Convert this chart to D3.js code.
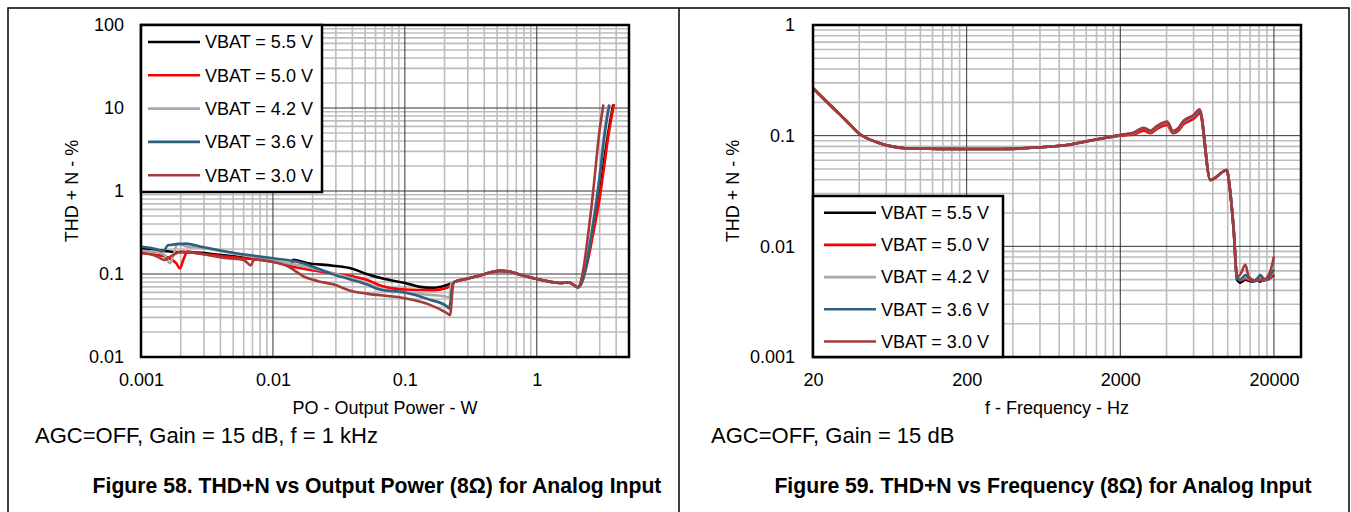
<!DOCTYPE html>
<html>
<head>
<meta charset="utf-8">
<script src="https://cdn.jsdelivr.net/npm/d3@7"></script>
<style>
body { margin: 0; background: #fff; }
svg text { font-family: "Liberation Sans", Arial, sans-serif; fill: #000; }
</style>
</head>
<body>
<div id="graphic"></div>
<script>
// series names + colours
var seriesNames = ['VBAT = 5.5 V', 'VBAT = 5.0 V', 'VBAT = 4.2 V', 'VBAT = 3.6 V', 'VBAT = 3.0 V'];
var seriesColours = ['#000000', '#ff0000', '#a9a9a9', '#2f6080', '#a63a3a'];

// Figure 58 - THD+N (%) vs output power (W), [P, THD]
var pow55 = [[0.001,0.205],[0.0013,0.195],[0.0015,0.19],[0.0018,0.184],[0.0025,0.182],[0.0035,0.174],[0.005,0.163],[0.007,0.152],[0.01,0.141],[0.0138,0.13],[0.0142,0.148],[0.018,0.136],[0.0285,0.126],[0.04,0.116],[0.0513,0.1],[0.068,0.088],[0.1,0.078],[0.13,0.07],[0.164,0.068],[0.2,0.072],[0.23,0.078],[0.24,0.081],[0.3,0.088],[0.37,0.096],[0.45,0.105],[0.53,0.109],[0.62,0.107],[0.75,0.098],[1,0.087],[1.25,0.081],[1.5,0.078],[1.75,0.079],[1.95,0.072],[2.05,0.069],[2.2,0.08],[2.4,0.14],[2.65,0.32],[2.9,0.7],[3.15,1.7],[3.45,4.6],[3.8,11]];
var pow50 = [[0.001,0.178],[0.0013,0.17],[0.0016,0.158],[0.00185,0.135],[0.00197,0.117],[0.0021,0.15],[0.00225,0.186],[0.0028,0.175],[0.004,0.165],[0.006,0.155],[0.01,0.142],[0.0142,0.122],[0.022,0.108],[0.03,0.1],[0.04,0.094],[0.0513,0.085],[0.068,0.071],[0.1,0.065],[0.164,0.064],[0.207,0.068],[0.23,0.076],[0.24,0.081],[0.3,0.088],[0.37,0.096],[0.45,0.105],[0.53,0.109],[0.62,0.107],[0.75,0.098],[1,0.087],[1.25,0.081],[1.5,0.078],[1.75,0.079],[1.95,0.072],[2.05,0.069],[2.2,0.08],[2.45,0.15],[2.7,0.33],[2.95,0.7],[3.2,1.7],[3.5,4.8],[3.85,11.2]];
var pow42 = [[0.001,0.19],[0.0013,0.185],[0.0015,0.17],[0.00166,0.135],[0.0019,0.232],[0.0022,0.215],[0.003,0.205],[0.005,0.178],[0.007,0.162],[0.01,0.145],[0.016,0.127],[0.0286,0.102],[0.0513,0.077],[0.0647,0.066],[0.1,0.06],[0.155,0.056],[0.2,0.054],[0.218,0.052],[0.225,0.078],[0.24,0.081],[0.3,0.088],[0.37,0.096],[0.45,0.105],[0.53,0.109],[0.62,0.107],[0.75,0.098],[1,0.087],[1.25,0.081],[1.5,0.078],[1.75,0.079],[1.95,0.072],[2.05,0.069],[2.2,0.08],[2.4,0.15],[2.6,0.32],[2.8,0.68],[3.0,1.6],[3.2,4.2],[3.5,10.8]];
var pow36 = [[0.001,0.213],[0.0013,0.2],[0.00148,0.188],[0.0016,0.222],[0.0022,0.232],[0.0028,0.215],[0.005,0.18],[0.01,0.155],[0.016,0.138],[0.0286,0.099],[0.0513,0.075],[0.0647,0.065],[0.1,0.06],[0.155,0.049],[0.207,0.041],[0.216,0.0385],[0.232,0.077],[0.24,0.081],[0.3,0.088],[0.37,0.096],[0.45,0.105],[0.53,0.109],[0.62,0.107],[0.75,0.098],[1,0.087],[1.25,0.081],[1.5,0.078],[1.75,0.079],[1.95,0.072],[2.05,0.069],[2.2,0.08],[2.4,0.14],[2.6,0.3],[2.8,0.65],[3.0,1.5],[3.25,4.5],[3.55,11]];
var pow30 = [[0.001,0.18],[0.0013,0.165],[0.0015,0.148],[0.0017,0.165],[0.002,0.186],[0.0028,0.175],[0.0045,0.155],[0.006,0.148],[0.0068,0.127],[0.0072,0.15],[0.01,0.14],[0.0125,0.127],[0.018,0.09],[0.022,0.082],[0.0286,0.075],[0.04,0.062],[0.0513,0.058],[0.1,0.051],[0.155,0.0425],[0.207,0.034],[0.22,0.032],[0.233,0.077],[0.24,0.081],[0.3,0.088],[0.37,0.096],[0.45,0.105],[0.53,0.109],[0.62,0.107],[0.75,0.098],[1,0.087],[1.25,0.081],[1.5,0.078],[1.75,0.079],[1.95,0.072],[2.05,0.069],[2.15,0.08],[2.3,0.14],[2.45,0.3],[2.6,0.65],[2.75,1.5],[2.95,4.5],[3.2,11]];

// Figure 59 - THD+N (%) vs frequency (Hz)
var freq = [20,25,30,35,40,47,55,65,80,100,130,200,330,600,900,1340,2000,2440,2840,3140,3470,4030,4410,4750,5170,6000,6570,7710,9910,10160,10940,11500,12100,13040,13700,14500,15550,16300,17170,18000,18970,20000];
var thd55 = [0.268,0.198,0.155,0.125,0.104,0.092,0.085,0.08,0.077,0.0765,0.076,0.0757,0.0757,0.0785,0.0824,0.0914,0.1005,0.104,0.114,0.108,0.118,0.128,0.107,0.112,0.13,0.145,0.162,0.0398,0.049,0.0398,0.0141,0.005,0.0047,0.005,0.0049,0.0048,0.0049,0.0048,0.005,0.005,0.0052,0.0055];
var thd50 = [0.268,0.198,0.155,0.125,0.104,0.092,0.085,0.08,0.077,0.0765,0.076,0.0757,0.0757,0.0785,0.0824,0.0914,0.1,0.102,0.111,0.105,0.115,0.125,0.105,0.11,0.127,0.142,0.158,0.0398,0.049,0.0398,0.0141,0.0052,0.0049,0.0051,0.005,0.0049,0.005,0.0049,0.0049,0.005,0.0052,0.0056];
var thd42 = [0.268,0.198,0.155,0.125,0.104,0.092,0.085,0.08,0.077,0.0765,0.076,0.0757,0.0757,0.0785,0.0824,0.0914,0.1012,0.105,0.116,0.109,0.12,0.131,0.108,0.114,0.133,0.15,0.168,0.0398,0.049,0.0398,0.0141,0.0052,0.005,0.0053,0.0051,0.0049,0.005,0.0053,0.005,0.005,0.0054,0.006];
var thd36 = [0.268,0.198,0.155,0.125,0.104,0.092,0.085,0.08,0.077,0.0765,0.076,0.0757,0.0757,0.0785,0.0824,0.0914,0.1015,0.106,0.117,0.11,0.121,0.133,0.109,0.115,0.135,0.152,0.17,0.0398,0.049,0.0398,0.0141,0.0052,0.005,0.0055,0.0052,0.0048,0.0051,0.0055,0.0051,0.005,0.0055,0.0062];
var thd30 = [0.268,0.198,0.155,0.125,0.104,0.092,0.085,0.08,0.077,0.0765,0.076,0.0757,0.0757,0.0785,0.0824,0.0914,0.1015,0.1064,0.118,0.111,0.1225,0.134,0.11,0.1166,0.1367,0.154,0.173,0.0398,0.049,0.0398,0.0141,0.0053,0.0056,0.0068,0.0053,0.005,0.0049,0.005,0.005,0.0052,0.006,0.0081];

// tick values
var powTicks = [0.001, 0.01, 0.1, 1];
var powThdTicks = [0.01, 0.1, 1, 10, 100];
var freqTicks = [20, 200, 2000, 20000];
var freqThdTicks = [0.001, 0.01, 0.1, 1];

var svg = d3.select('#graphic').append('svg')
	.attr('width', 1351)
	.attr('height', 512);

// outer frame of the two figures
svg.append('path')
	.attr('d', 'M8,512V8H1349V512M679,8V512')
	.attr('fill', 'none')
	.attr('stroke', '#000')
	.attr('stroke-width', 1.5);

// log gridline values: base*k for k = 1..9 each decade
function gridVals(base, lo, hi) {
	var out = [];
	for (var d = base; d <= hi * 1.0001; d *= 10) {
		for (var k = 1; k <= 9; k++) {
			var v = d * k;
			if (v >= lo * 0.9999 && v <= hi * 1.0001) out.push({ v: v, major: k == 1 });
		}
	}
	return out;
}

function drawPanel(cfg) {
	var x = d3.scaleLog().domain(cfg.xDomain).range([cfg.left, cfg.right]);
	var y = d3.scaleLog().domain(cfg.yDomain).range([cfg.bottom, cfg.top]);
	var g = svg.append('g');

	var xg = gridVals(cfg.xBase, cfg.xDomain[0], cfg.xDomain[1]);
	var yg = gridVals(cfg.yDomain[0], cfg.yDomain[0], cfg.yDomain[1]);

	// minor grid first, then major on top
	[false, true].forEach(function (maj) {
		g.selectAll(null)
			.data(xg.filter(d => d.major == maj))
			.join('line')
			.attr('x1', d => x(d.v)).attr('x2', d => x(d.v))
			.attr('y1', cfg.top).attr('y2', cfg.bottom)
			.attr('stroke', maj ? '#333' : '#bdbdbd')
			.attr('stroke-width', maj ? 1 : 1.6);
		g.selectAll(null)
			.data(yg.filter(d => d.major == maj))
			.join('line')
			.attr('y1', d => y(d.v)).attr('y2', d => y(d.v))
			.attr('x1', cfg.left).attr('x2', cfg.right)
			.attr('stroke', maj ? '#333' : '#bdbdbd')
			.attr('stroke-width', maj ? 1 : 1.6);
	});

	// data lines
	var line = d3.line()
		.x(d => x(d[0]))
		.y(d => y(d[1]))
		.curve(d3.curveMonotoneX);

	g.selectAll('path.series')
		.data(cfg.series)
		.join('path')
		.attr('class', 'series')
		.attr('d', line)
		.attr('fill', 'none')
		.attr('stroke', (d, i) => seriesColours[i])
		.attr('stroke-width', 2.6)
		.attr('stroke-linejoin', 'round');

	// plot border
	g.append('rect')
		.attr('x', cfg.left).attr('y', cfg.top)
		.attr('width', cfg.right - cfg.left)
		.attr('height', cfg.bottom - cfg.top)
		.attr('fill', 'none')
		.attr('stroke', '#000')
		.attr('stroke-width', 2.5);

	// axes
	g.append('g')
		.attr('transform', 'translate(' + cfg.left + ',0)')
		.call(d3.axisLeft(y).tickValues(cfg.yTicks).tickFormat(d => String(d)).tickSize(0).tickPadding(cfg.yPad))
		.call(a => a.select('.domain').remove())
		.attr('font-family', null).attr('font-size', 18);

	g.append('g')
		.attr('transform', 'translate(0,' + cfg.bottom + ')')
		.call(d3.axisBottom(x).tickValues(cfg.xTicks).tickFormat(d => String(d)).tickSize(0).tickPadding(16))
		.call(a => a.select('.domain').remove())
		.attr('font-family', null).attr('font-size', 18);

	// axis titles
	g.append('text')
		.attr('transform', 'translate(' + cfg.yTitleX + ',' + (cfg.top + cfg.bottom) / 2 + ') rotate(-90)')
		.attr('text-anchor', 'middle')
		.attr('font-size', 18)
		.text('THD + N - %');

	g.append('text')
		.attr('x', (cfg.left + cfg.right) / 2)
		.attr('y', 414)
		.attr('text-anchor', 'middle')
		.attr('font-size', 18)
		.text(cfg.xTitle);

	// legend
	var lg = cfg.legend;
	g.append('rect')
		.attr('x', lg.x0).attr('y', lg.y0)
		.attr('width', lg.x1 - lg.x0).attr('height', lg.y1 - lg.y0)
		.attr('fill', '#fff')
		.attr('stroke', '#000')
		.attr('stroke-width', 2.5);

	var items = g.selectAll('g.legend-item')
		.data(seriesNames)
		.join('g')
		.attr('class', 'legend-item')
		.attr('transform', (d, i) => 'translate(0,' + (lg.row0 + i * lg.step) + ')');
	items.append('line')
		.attr('x1', lg.lineX0).attr('x2', lg.lineX1)
		.attr('stroke', (d, i) => seriesColours[i])
		.attr('stroke-width', 2.6);
	items.append('text')
		.attr('x', lg.textX)
		.attr('dy', '0.35em')
		.attr('font-size', 18)
		.text(d => d);

	// notes + caption
	svg.append('text')
		.attr('x', cfg.noteX).attr('y', 443)
		.attr('font-size', 22)
		.text(cfg.note);

	svg.append('text')
		.attr('x', cfg.captionX).attr('y', 493)
		.attr('text-anchor', 'middle')
		.attr('font-size', 21.2)
		.attr('font-weight', 'bold')
		.text(cfg.caption);
}

drawPanel({
	left: 141, right: 629, top: 25, bottom: 357,
	xDomain: [0.001, 5], yDomain: [0.01, 100], xBase: 0.001,
	xTicks: powTicks, yTicks: powThdTicks, yPad: 17,
	series: [pow55, pow50, pow42, pow36, pow30],
	yTitleX: 78,
	xTitle: 'PO - Output Power - W',
	legend: { x0: 141, x1: 322, y0: 25, y1: 192, row0: 42, step: 33.3, lineX0: 148, lineX1: 200, textX: 205 },
	noteX: 35, note: 'AGC=OFF, Gain = 15 dB, f = 1 kHz',
	captionX: 377, caption: 'Figure 58. THD+N vs Output Power (8Ω) for Analog Input'
});

drawPanel({
	left: 813, right: 1301, top: 25, bottom: 357,
	xDomain: [20, 30000], yDomain: [0.001, 1], xBase: 20,
	xTicks: freqTicks, yTicks: freqThdTicks, yPad: 18,
	series: [thd55, thd50, thd42, thd36, thd30].map(s => freq.map((f, i) => [f, s[i]])),
	yTitleX: 739,
	xTitle: 'f - Frequency - Hz',
	legend: { x0: 813, x1: 1003, y0: 196, y1: 357, row0: 212.7, step: 32.2, lineX0: 824, lineX1: 876, textX: 881 },
	noteX: 711, note: 'AGC=OFF, Gain = 15 dB',
	captionX: 1043, caption: 'Figure 59. THD+N vs Frequency (8Ω) for Analog Input'
});
</script>
</body>
</html>
